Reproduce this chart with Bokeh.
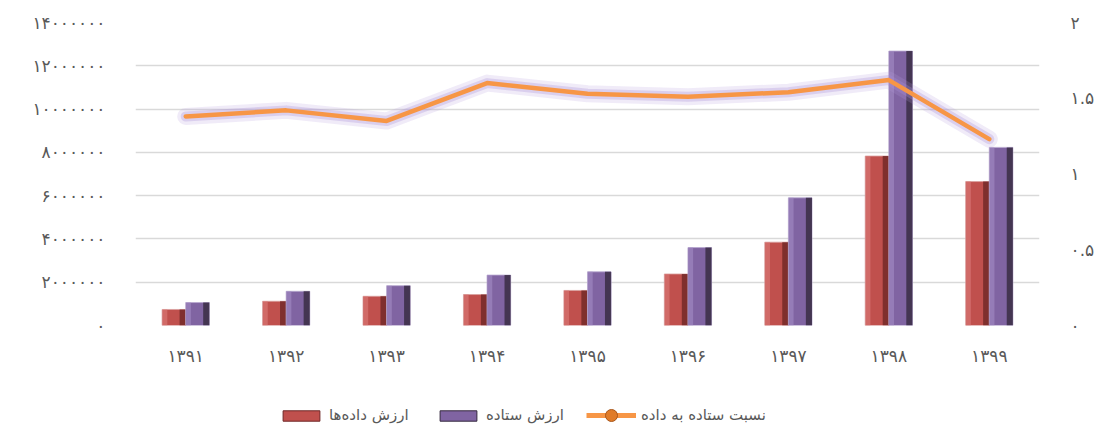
from bokeh.plotting import figure
from bokeh.layouts import column
from bokeh.models import (ColumnDataSource, FactorRange, Range1d, LinearAxis,
                          FixedTicker, Legend, LegendItem)
from bokeh.transform import dodge
from bokeh.embed import file_html
from bokeh.resources import INLINE

# ---- data ----
years = ["۱۳۹۱", "۱۳۹۲", "۱۳۹۳", "۱۳۹۴", "۱۳۹۵", "۱۳۹۶", "۱۳۹۷", "۱۳۹۸", "۱۳۹۹"]
inputs = [740000, 1120000, 1350000, 1430000, 1620000, 2380000, 3850000, 7830000, 6650000]
outputs = [1060000, 1580000, 1840000, 2330000, 2480000, 3600000, 5900000, 12680000, 8230000]
ratio = [1.38, 1.42, 1.35, 1.60, 1.53, 1.51, 1.54, 1.62, 1.23]

left_ticks = [0, 2000000, 4000000, 6000000, 8000000, 10000000, 12000000, 14000000]
left_labels = ["۰", "۲۰۰۰۰۰۰", "۴۰۰۰۰۰۰", "۶۰۰۰۰۰۰", "۸۰۰۰۰۰۰",
               "۱۰۰۰۰۰۰۰", "۱۲۰۰۰۰۰۰", "۱۴۰۰۰۰۰۰"]
right_ticks = [0, 0.5, 1, 1.5, 2]
right_labels = ["۰", "۰.۵", "۱", "۱.۵", "۲"]

name_inputs = "ارزش داده‌ها"
name_outputs = "ارزش ستاده"
name_ratio = "نسبت ستاده به داده"

FONT = "DejaVu Sans"
TXT = "#595959"
RED, PURPLE, ORANGE = "#C0504D", "#8064A2", "#F79646"

src = ColumnDataSource(dict(x=years, inp=inputs, out=outputs, r=ratio))

p = figure(x_range=FactorRange(*years, range_padding=0.0),
           y_range=Range1d(0, 14000000),
           width=1097, height=368, output_backend="svg", toolbar_location=None,
           min_border_left=135, min_border_right=45, min_border_top=22,
           min_border_bottom=10)
p.outline_line_color = None
p.background_fill_color = "white"
p.extra_y_ranges = {"ratio": Range1d(0, 2)}

bw = 0.235
# red bars (inputs)
p.vbar(x=dodge("x", -bw / 2, range=p.x_range), top="inp", width=bw, source=src,
       fill_color=RED, line_color="#D9A09E", line_width=0.8)
p.vbar(x=dodge("x", -bw / 2 + bw * 0.37, range=p.x_range), top="inp", width=bw * 0.26,
       source=src, fill_color="#6E2726", line_color=None, fill_alpha=0.8)
p.vbar(x=dodge("x", -bw / 2 - bw * 0.38, range=p.x_range), top="inp", width=bw * 0.2,
       source=src, fill_color="#DC7C79", line_color=None, fill_alpha=0.6)
# purple bars (outputs)
p.vbar(x=dodge("x", bw / 2, range=p.x_range), top="out", width=bw, source=src,
       fill_color=PURPLE, line_color="#B8A8CF", line_width=0.8)
p.vbar(x=dodge("x", bw / 2 + bw * 0.37, range=p.x_range), top="out", width=bw * 0.26,
       source=src, fill_color="#35293F", line_color=None, fill_alpha=0.8)
p.vbar(x=dodge("x", bw / 2 - bw * 0.38, range=p.x_range), top="out", width=bw * 0.2,
       source=src, fill_color="#A48CC4", line_color=None, fill_alpha=0.6)

# ratio line with purple glow
p.line(x="x", y="r", source=src, y_range_name="ratio", line_color="#B39DDB",
       line_width=17, line_alpha=0.2, line_join="round", line_cap="round")
p.line(x="x", y="r", source=src, y_range_name="ratio", line_color="#A98FD6",
       line_width=10, line_alpha=0.3, line_join="round", line_cap="round")
p.line(x="x", y="r", source=src, y_range_name="ratio", line_color=ORANGE,
       line_width=4.5, line_join="round", line_cap="round")

# axes
ax = p.yaxis[0]
ax.ticker = FixedTicker(ticks=left_ticks)
ax.major_label_overrides = {t: l for t, l in zip(left_ticks, left_labels)}
ax2 = LinearAxis(y_range_name="ratio", ticker=FixedTicker(ticks=right_ticks))
ax2.major_label_overrides = {t: l for t, l in zip(right_ticks, right_labels)}
p.add_layout(ax2, "right")

for a in [ax, ax2, p.xaxis[0]]:
    a.axis_line_color = None
    a.major_tick_line_color = None
    a.minor_tick_line_color = None
    a.major_label_text_font = FONT
    a.major_label_text_font_size = "17px"
    a.major_label_text_color = TXT
ax.major_label_standoff = 24
ax2.major_label_standoff = 25
p.xaxis[0].major_label_standoff = 14

p.xgrid.grid_line_color = None
p.ygrid.grid_line_color = "#D9D9D9"
p.ygrid.grid_line_width = 1.5
p.ygrid.ticker = FixedTicker(ticks=left_ticks)

# ---- legend strip (separate figure, hidden proxy renderers) ----
lg = figure(x_range=FactorRange(*years), y_range=Range1d(0, 14000000),
            width=1097, height=60, output_backend="svg", toolbar_location=None,
            min_border=0)
lg.axis.visible = False
lg.grid.grid_line_color = None
lg.outline_line_color = None
l_in = lg.vbar(x="x", top="inp", width=0.2, source=src, fill_color=RED,
               line_color="#6E2726", visible=False)
l_out = lg.vbar(x="x", top="out", width=0.2, source=src, fill_color=PURPLE,
                line_color="#35293F", visible=False)
l_line = lg.line(x="x", y="r", source=src, line_color=ORANGE, line_width=5,
                 visible=False)
l_mark = lg.scatter(x="x", y="r", source=src, size=12, fill_color="#E07B28",
                    line_color="#A8561A", visible=False)

common = dict(orientation="horizontal", border_line_color=None, padding=2,
              label_standoff=5, spacing=0, label_text_font=FONT,
              label_text_font_size="15px", label_text_color=TXT,
              background_fill_alpha=0, margin=0)
leg1 = Legend(items=[LegendItem(label=name_inputs, renderers=[l_in])],
              location=(143, 4), glyph_width=46, glyph_height=13, **common)
leg2 = Legend(items=[LegendItem(label=name_outputs, renderers=[l_out])],
              location=(300, 4), glyph_width=46, glyph_height=13, **common)
leg3 = Legend(items=[LegendItem(label=name_ratio, renderers=[l_line, l_mark])],
              location=(451, -2), glyph_width=50, glyph_height=30, **common)
for lgd in (leg1, leg2, leg3):
    lg.add_layout(lgd, "center")

open("out.html", "w").write(file_html(column(p, lg, spacing=0), INLINE))
